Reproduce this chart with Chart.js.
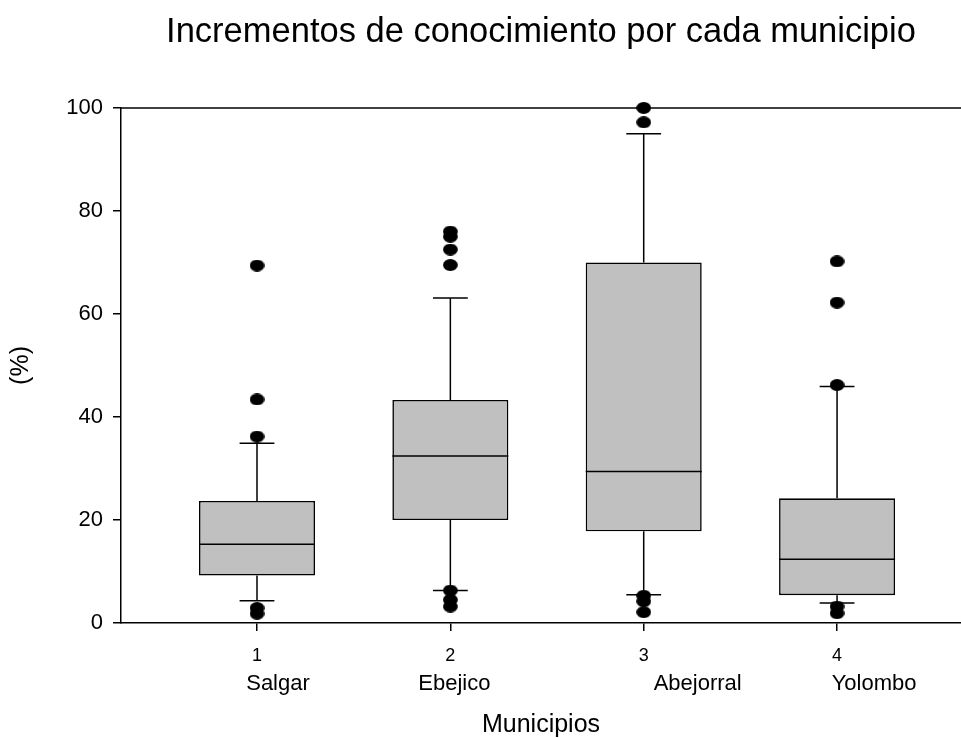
<!DOCTYPE html>
<html><head><meta charset="utf-8">
<script src="https://cdn.jsdelivr.net/npm/chart.js@4.4.1/dist/chart.umd.min.js"></script>
<style>html,body{margin:0;padding:0;background:#fff}#wrap{width:961px;height:738px;position:relative}</style>
</head><body><div id="wrap"><canvas id="c"></canvas></div>
<script>
// ---- data ----
const categories = [1, 2, 3, 4];
const municipios = ['Salgar', 'Ebejico', 'Abejorral', 'Yolombo'];
const whiskerLow = [4.3, 6.3, 5.5, 3.9];
const q1 = [9.2, 20.0, 17.8, 5.4];
const median = [15.3, 32.4, 29.4, 12.4];
const q3 = [23.7, 43.3, 70.0, 24.2];
const whiskerHigh = [34.9, 63.1, 95.0, 45.9];
const outliers = [
  [69.4, 43.4, 36.2, 2.9, 1.8],
  [76.0, 75.0, 72.5, 69.5, 6.3, 4.5, 3.2],
  [100.0, 97.2, 5.3, 4.2, 2.1],
  [70.2, 62.2, 46.2, 3.2, 1.9]
];
const yTicks = [0, 20, 40, 60, 80, 100];

// ---- styling / geometry (not data) ----
const FONT = "'Liberation Sans', Arial, Helvetica, sans-serif";
const BOX_HALF = 0.3, CAP_HALF = 0.09;
const nameShift = [21, 4, 54, 37];

const segs = [];
categories.forEach((c, i) => {
  const add = (pts) => { pts.forEach(p => segs.push({x: p[0], y: p[1]})); segs.push({x: c, y: null}); };
  add([[c, q3[i]], [c, whiskerHigh[i]]]);
  add([[c - CAP_HALF, whiskerHigh[i]], [c + CAP_HALF, whiskerHigh[i]]]);
  add([[c, q1[i]], [c, whiskerLow[i]]]);
  add([[c - CAP_HALF, whiskerLow[i]], [c + CAP_HALF, whiskerLow[i]]]);
  add([[c - BOX_HALF, median[i]], [c + BOX_HALF, median[i]]]);
});
const outPts = [];
categories.forEach((c, i) => outliers[i].forEach(v => outPts.push({x: c, y: v})));

const dot = document.createElement('canvas');
dot.width = 15; dot.height = 12;
(function(){ const g = dot.getContext('2d'); g.fillStyle = '#000'; g.beginPath(); g.ellipse(7.5, 6, 7.4, 5.9, 0, 0, Math.PI * 2); g.fill(); })();

const framePlugin = {
  id: 'frame',
  afterDraw(chart) {
    const {ctx, chartArea: a, scales} = chart;
    ctx.save();
    ctx.strokeStyle = '#000'; ctx.lineWidth = 1.5;
    ctx.beginPath(); ctx.moveTo(a.left, a.top); ctx.lineTo(a.right, a.top); ctx.stroke();
    ctx.fillStyle = '#000'; ctx.font = '22px ' + FONT;
    ctx.textAlign = 'center'; ctx.textBaseline = 'middle';
    municipios.forEach((m, i) => {
      ctx.fillText(m, scales.x.getPixelForValue(categories[i]) + nameShift[i], 684);
    });
    ctx.restore();
  }
};

const noPad = (s) => { s.paddingLeft = 0; s.paddingRight = 0; };

new Chart(document.getElementById('c'), {
  data: {
    datasets: [
      { type: 'scatter', data: outPts, pointStyle: dot, pointRadius: 6, order: 0, clip: false },
      { type: 'line', data: segs, borderColor: '#000', borderWidth: 1.5, pointRadius: 0, spanGaps: false, tension: 0, order: 1 },
      { type: 'bar', data: categories.map((c, i) => ({x: c, y: [q1[i], q3[i]]})),
        backgroundColor: '#c0c0c0', borderColor: '#000', borderWidth: 1.6, borderSkipped: false,
        barPercentage: 0.6, categoryPercentage: 1, order: 2 }
    ]
  },
  options: {
    responsive: true, maintainAspectRatio: false, animation: false, events: [],
    layout: { padding: 0, autoPadding: false },
    plugins: {
      legend: { display: false }, tooltip: { enabled: false },
      title: { display: true, text: 'Incrementos de conocimiento por cada municipio', color: '#000',
        fullSize: false, font: { family: FONT, size: 34.5, weight: 'normal' }, padding: { top: 12, bottom: 54.5 } }
    },
    scales: {
      x: {
        type: 'linear', position: 'bottom', min: 0.2966, max: 4.641, offset: false,
        afterBuildTicks: (s) => { s.ticks = categories.map(v => ({value: v})); },
        afterFit: (s) => { s.height = 115; noPad(s); },
        grid: { display: true, offset: false, drawOnChartArea: false, drawTicks: true, tickLength: 8, color: '#000', lineWidth: 1.5 },
        border: { display: true, color: '#000', width: 1.5 },
        ticks: { color: '#000', font: { family: FONT, size: 18 }, padding: 14, callback: (v) => String(v) },
        title: { display: true, text: 'Municipios', color: '#000', font: { family: FONT, size: 25 }, padding: { top: 50, bottom: -2 } }
      },
      y: {
        type: 'linear', min: 0, max: 100,
        afterBuildTicks: (s) => { s.ticks = yTicks.map(v => ({value: v})); },
        afterFit: (s) => { s.width = 121; },
        grid: { display: true, drawOnChartArea: false, drawTicks: true, tickLength: 8, color: '#000', lineWidth: 1.5 },
        border: { display: true, color: '#000', width: 1.5 },
        ticks: { color: '#000', font: { family: FONT, size: 22 }, padding: 10 },
        title: { display: true, text: '(%)', color: '#000', font: { family: FONT, size: 25 }, padding: { top: 6, bottom: 0 } }
      }
    }
  },
  plugins: [framePlugin]
});
</script></body></html>
